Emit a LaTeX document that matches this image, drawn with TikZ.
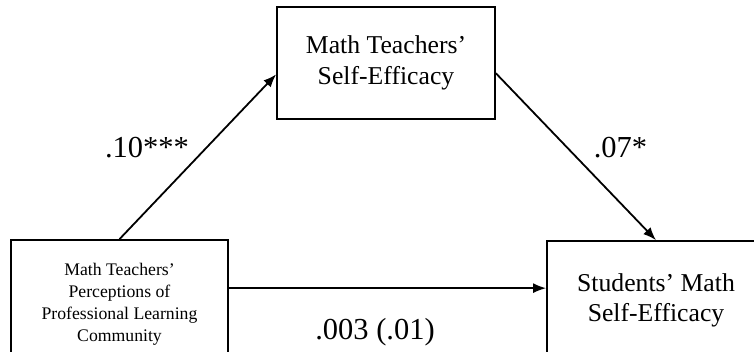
\documentclass[tikz,border=0pt]{standalone}
\usepackage{fontspec}
\setmainfont{Liberation Serif}
\usetikzlibrary{calc,arrows.meta}
\begin{document}
\begin{tikzpicture}[x=1pt,y=-1pt,
  box/.style={draw=black,line width=1.7pt,fill=white,align=center,inner sep=0pt},
  bigtext/.style={font=\fontsize{25.7}{30.5}\selectfont},
  smalltext/.style={font=\fontsize{17.7}{22}\selectfont},
  coef/.style={font=\fontsize{30.5}{36}\selectfont,anchor=base,inner sep=0pt},
  link/.style={line width=1.8pt,-{Latex[length=13pt,width=10pt]}}]
\useasboundingbox[fill=white] (0,0) rectangle (754,352);
\node[box,bigtext,minimum width=218pt,minimum height=112pt] (top) at (386,63) {Math Teachers'\\Self-Efficacy};
\node[box,smalltext,minimum width=217pt,minimum height=128pt] (lf) at (119.5,304) {Math Teachers'\\Perceptions of\\Professional Learning\\Community};
\node[box,bigtext,minimum width=218pt,minimum height=119pt] (rt) at (656,300.5) {Students' Math\\Self-Efficacy};
\coordinate (a1) at ($(top.north west)!0.6!(top.south west)$);
\coordinate (b1) at ($(top.north east)!0.59!(top.south east)$);
\coordinate (hs) at ($(lf.north east)+(0,49)$);
\draw[link] (lf.north) -- (a1);
\draw[link] (b1) -- (rt.north);
\draw[link] (hs) -- (hs -| rt.west);
\node[coef] (c1) at (147,158) {.10***};
\node[coef] (c2) at (620.5,158) {.07*};
\node[coef] (c3) at (375,339) {.003 (.01)};
\end{tikzpicture}
\end{document}
